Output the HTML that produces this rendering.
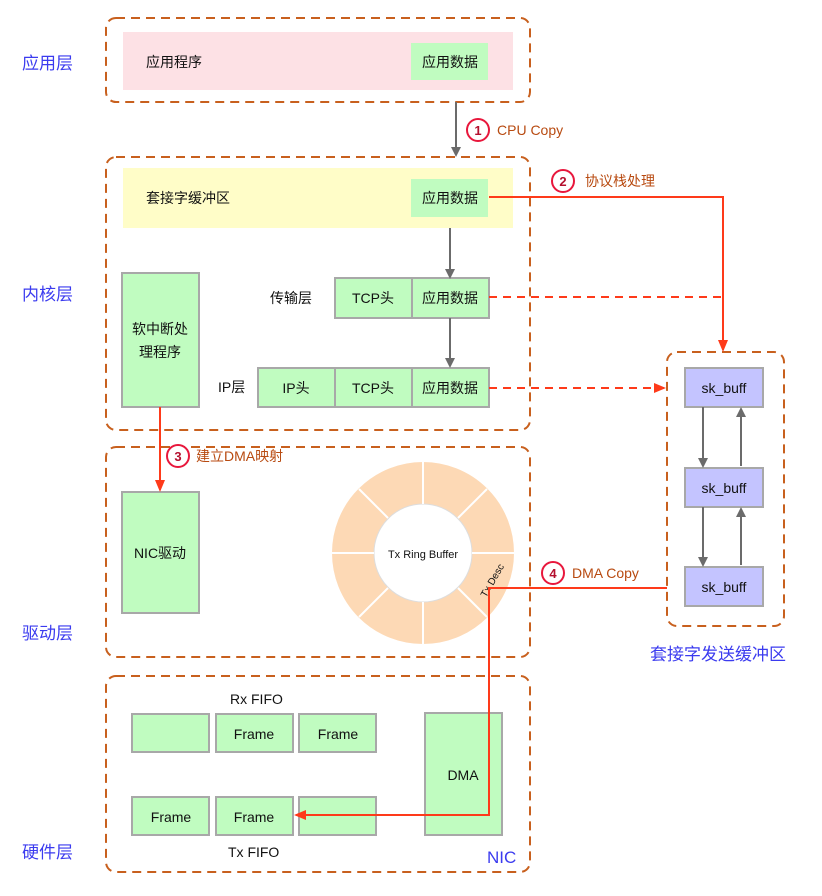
<!DOCTYPE html>
<html><head><meta charset="utf-8"><style>
html,body{margin:0;padding:0;background:#fff}
svg{display:block}
text{font-family:"Liberation Sans","Noto Sans CJK SC",sans-serif}
</style></head><body>
<svg width="822" height="896" viewBox="0 0 822 896" xmlns="http://www.w3.org/2000/svg">
<defs>
<marker id="ag" markerWidth="10" markerHeight="10" refX="8" refY="5" orient="auto" markerUnits="userSpaceOnUse"><path d="M0,0 L10,5 L0,10 z" fill="#6b6b6b"/></marker>
<marker id="ar" markerWidth="12" markerHeight="10" refX="10" refY="5" orient="auto" markerUnits="userSpaceOnUse"><path d="M0,0 L12,5 L0,10 z" fill="#fe3a1a"/></marker>
</defs>
<g fill="none" stroke="#c8601e" stroke-width="2" stroke-dasharray="9,6">
<rect x="106" y="18" width="424" height="84" rx="10"/>
<rect x="106" y="157" width="424" height="273" rx="10"/>
<rect x="106" y="447" width="424" height="210" rx="10"/>
<rect x="106" y="676" width="424" height="196" rx="10"/>
<rect x="667" y="352" width="117" height="274" rx="10"/>
</g>
<g font-size="17" fill="#3b3bef">
<text x="22" y="69">应用层</text><text x="22" y="300">内核层</text><text x="22" y="639">驱动层</text><text x="22" y="858">硬件层</text>
<text x="650" y="660">套接字发送缓冲区</text><text x="487" y="863">NIC</text>
</g>
<rect x="123" y="32" width="390" height="58" fill="#fde1e5"/>
<rect x="123" y="168" width="390" height="60" fill="#fffdc8"/>
<g font-size="14" fill="#111">
<text x="146" y="67">应用程序</text><text x="146" y="203">套接字缓冲区</text>
<text x="270" y="303">传输层</text><text x="218" y="392">IP层</text>
<text x="230" y="704">Rx FIFO</text><text x="228" y="857">Tx FIFO</text>
</g>
<g fill="#c0fcc0" stroke="#a8a8a8" stroke-width="2">
<rect x="411" y="43" width="77" height="37" stroke="none"/>
<rect x="411" y="179" width="77" height="38" stroke="none"/>
<rect x="122" y="273" width="77" height="134"/>
<rect x="335" y="278" width="77" height="40"/><rect x="412" y="278" width="77" height="40"/>
<rect x="258" y="368" width="77" height="39"/><rect x="335" y="368" width="77" height="39"/><rect x="412" y="368" width="77" height="39"/>
<rect x="122" y="492" width="77" height="121"/>
<rect x="132" y="714" width="77" height="38"/><rect x="216" y="714" width="77" height="38"/><rect x="299" y="714" width="77" height="38"/>
<rect x="132" y="797" width="77" height="38"/><rect x="216" y="797" width="77" height="38"/><rect x="299" y="797" width="77" height="38"/>
<rect x="425" y="713" width="77" height="122"/>
</g>
<g fill="#c4c4ff" stroke="#a8a8a8" stroke-width="2">
<rect x="685" y="368" width="78" height="39"/><rect x="685" y="468" width="78" height="39"/><rect x="685" y="567" width="78" height="39"/>
</g>
<g font-size="14" fill="#111" text-anchor="middle">
<text x="450" y="67">应用数据</text><text x="450" y="203">应用数据</text>
<text x="160" y="334">软中断处</text><text x="160" y="357">理程序</text>
<text x="373" y="303">TCP头</text><text x="450" y="303">应用数据</text>
<text x="296" y="393">IP头</text><text x="373" y="393">TCP头</text><text x="450" y="393">应用数据</text>
<text x="160" y="558">NIC驱动</text>
<text x="254" y="739">Frame</text><text x="338" y="739">Frame</text>
<text x="171" y="822">Frame</text><text x="254" y="822">Frame</text>
<text x="463" y="780">DMA</text>
<text x="724" y="393">sk_buff</text><text x="724" y="493">sk_buff</text><text x="724" y="592">sk_buff</text>
</g>
<circle cx="423" cy="553" r="70" fill="none" stroke="#fdd9b5" stroke-width="42"/>
<circle cx="423" cy="553" r="49" fill="#fff" stroke="#ddd" stroke-width="1"/>
<g stroke="#fff" stroke-width="2">
<line x1="472" y1="553" x2="514" y2="553"/><line x1="332" y1="553" x2="374" y2="553"/>
<line x1="423" y1="504" x2="423" y2="462"/><line x1="423" y1="602" x2="423" y2="644"/>
<line x1="458" y1="518" x2="487" y2="489"/><line x1="388" y1="588" x2="359" y2="617"/>
<line x1="458" y1="588" x2="487" y2="617"/><line x1="388" y1="518" x2="359" y2="489"/>
</g>
<text x="423" y="558" font-size="11" text-anchor="middle" fill="#111">Tx Ring Buffer</text>
<text x="0" y="0" font-size="10" fill="#111" transform="translate(486,598) rotate(-60)">Tx Desc</text>
<g stroke="#6b6b6b" stroke-width="2" fill="none" marker-end="url(#ag)">
<line x1="456" y1="102" x2="456" y2="155"/>
<line x1="450" y1="228" x2="450" y2="277"/>
<line x1="450" y1="318" x2="450" y2="366"/>
<line x1="703" y1="407" x2="703" y2="466"/><line x1="741" y1="466" x2="741" y2="409"/>
<line x1="703" y1="507" x2="703" y2="565"/><line x1="741" y1="565" x2="741" y2="509"/>
</g>
<g stroke="#fe3a1a" stroke-width="2" fill="none">
<polyline points="489,197 723,197 723,350" marker-end="url(#ar)"/>
<line x1="489" y1="297" x2="723" y2="297" stroke-dasharray="8,6"/>
<line x1="489" y1="388" x2="664" y2="388" stroke-dasharray="8,6" marker-end="url(#ar)"/>
<line x1="160" y1="407" x2="160" y2="490" marker-end="url(#ar)"/>
<polyline points="667,588 489,588 489,815 296,815" marker-end="url(#ar)"/>
</g>
<g stroke="#e8173c" stroke-width="2" fill="#fff">
<circle cx="478" cy="130" r="11"/><circle cx="563" cy="181" r="11"/><circle cx="178" cy="456" r="11"/><circle cx="553" cy="573" r="11"/>
</g>
<g font-size="13" font-weight="bold" fill="#b4102e" text-anchor="middle">
<text x="478" y="135">1</text><text x="563" y="186">2</text><text x="178" y="461">3</text><text x="553" y="578">4</text>
</g>
<g font-size="14" fill="#b84a10">
<text x="497" y="135">CPU Copy</text><text x="585" y="186">协议栈处理</text>
<text x="196" y="461">建立DMA映射</text><text x="572" y="578">DMA Copy</text>
</g>
</svg>
</body></html>
